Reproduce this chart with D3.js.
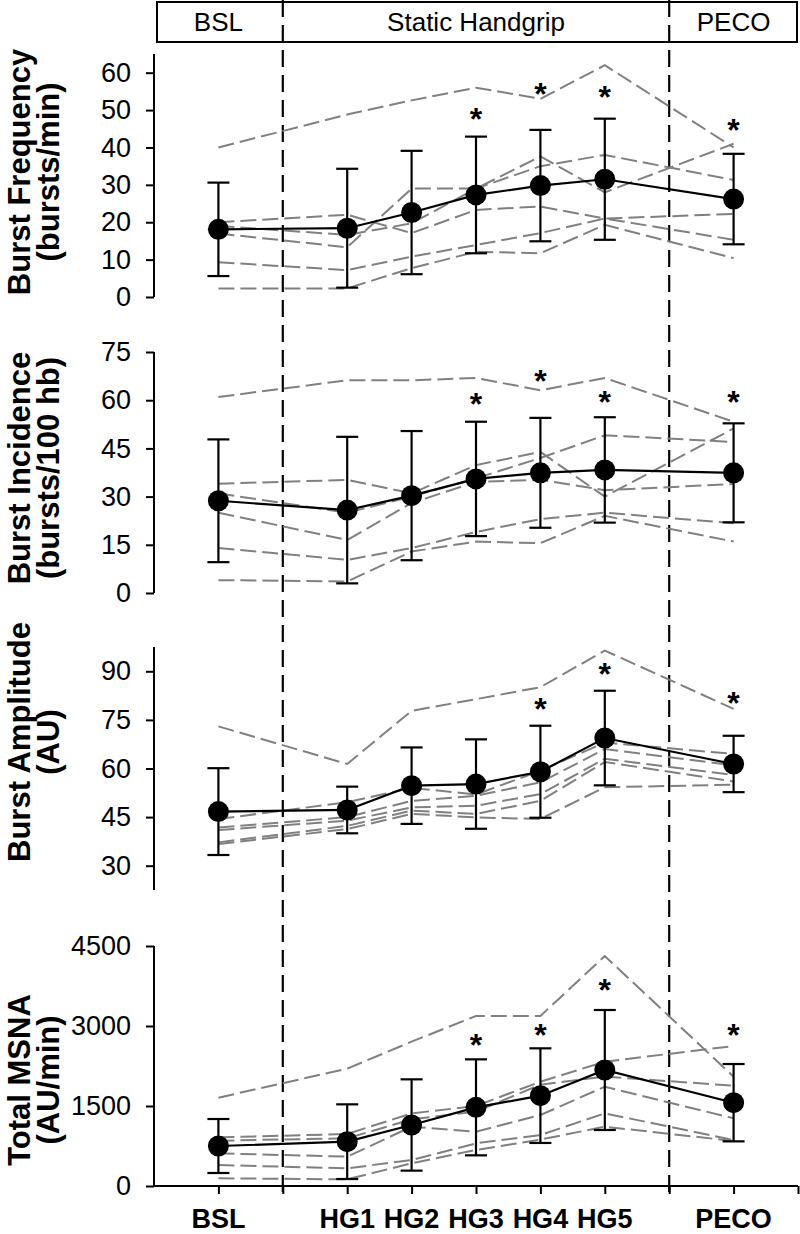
<!DOCTYPE html>
<html><head><meta charset="utf-8">
<script src="https://cdn.jsdelivr.net/npm/d3@7"></script>
<style>body{margin:0;background:#fff}svg{display:block}text{font-family:"Liberation Sans",Arial,sans-serif}</style>
</head><body><svg id="c" width="800" height="1234"></svg>
<script>
// ---------- DATA ----------
const slots = ["start","BSL","sep1","HG1","HG2","HG3","HG4","HG5","sep2","PECO","end"];
const categories = ["BSL","HG1","HG2","HG3","HG4","HG5","PECO"];
const separators = ["sep1","sep2"];
const phaseLabels = ["BSL","Static Handgrip","PECO"];
const phaseCenters = ["BSL","HG3","PECO"];

const freqTitle = ["Burst Frequency","(bursts/min)"];
const freqTicks = [0,10,20,30,40,50,60];
const freqMean = [18.1,18.4,22.6,27.3,29.8,31.5,26.2];
const freqSD   = [12.5,15.9,16.5,15.6,14.9,16.2,12.1];
const freqStars = [null,null,null,49.6,56.3,55.4,46.6];
const freqSubjects = [
  [40,48.8,52.6,56,53,62,40],
  [17,13.3,29,29,37.6,28,41],
  [20,22,17.1,23.3,24.2,21,22.2],
  [19,16.6,19.7,29,35,38,31.3],
  [9.3,7.2,10.8,13.9,17.1,21,15.3],
  [2.3,2.3,7.7,12.1,11.7,19.3,10.4]
];

const incTitle = ["Burst Incidence","(bursts/100 hb)"];
const incTicks = [0,15,30,45,60,75];
const incMean = [28.7,25.8,30.3,35.5,37.4,38.3,37.4];
const incSD   = [19.1,22.8,20.1,17.8,17.1,16.4,15.4];
const incStars = [null,null,null,61,68,61.5,61.5];
const incSubjects = [
  [61,66.2,66.2,66.9,63.1,66.9,53.3],
  [34,35.2,31,39.8,43.9,30,51.2],
  [31,25,30,35.7,42,49.1,47],
  [25,16.5,28,34.6,35.2,32,33.9],
  [14,10.3,14,19,23,25,21.7],
  [4,3.6,12.9,16,15.5,24,16]
];

const ampTitle = ["Burst Amplitude","(AU)"];
const ampTicks = [30,45,60,75,90];
const ampMean = [46.7,47.2,54.7,55.2,59,69.4,61.4];
const ampSD   = [13.4,7.2,11.8,13.8,14.2,14.6,8.7];
const ampStars = [null,null,null,null,80.4,91.2,82.3];
const ampSubjects = [
  [73,61.4,77.8,81.4,85.1,96.4,78.4],
  [44.4,49.6,54,52,59.3,68,64.5],
  [41.8,45,50,51.6,55.7,66,61],
  [41,43.9,48,48.5,52.1,63,58],
  [37.2,42.3,47,46,50,62,56],
  [36.7,41.3,46,44.9,44.4,54.2,55]
];

const totTitle = ["Total MSNA","(AU/min)"];
const totTicks = [0,1500,3000,4500];
const totMean = [750,831,1144,1475,1694,2175,1562];
const totSD   = [506,700,856,900,887,1125,725];
const totStars = [null,null,null,2769,2969,3800,2956];
const totSubjects = [
  [1656,2200,2706,3188,3188,4312,2050],
  [912,975,1362,1500,1956,2331,2625],
  [850,894,1250,1394,1900,2050,1881],
  [612,550,1112,1019,1331,1862,1269],
  [394,331,487,800,956,1362,862],
  [144,125,425,675,870,1112,844]
];

// ---------- LAYOUT ----------
const svg = d3.select("#c");
const X0 = 154, X1 = 798;
const x = d3.scalePoint().domain(slots).range([X0, X1]);
const font = '"Liberation Sans",Arial,sans-serif';

const panels = [
  {title:freqTitle, ticks:freqTicks, mean:freqMean, sd:freqSD, stars:freqStars, subj:freqSubjects, domain:[0,65], range:[297,54], tc:172},
  {title:incTitle, ticks:incTicks, mean:incMean, sd:incSD, stars:incStars, subj:incSubjects, domain:[0,75], range:[593,352], tc:468},
  {title:ampTitle, ticks:ampTicks, mean:ampMean, sd:ampSD, stars:ampStars, subj:ampSubjects, domain:[22.5,97.5], range:[890,647], tc:742},
  {title:totTitle, ticks:totTicks, mean:totMean, sd:totSD, stars:totStars, subj:totSubjects, domain:[0,4500], range:[1186,946], tc:1080}
];

// header
const hdr = svg.append("g");
hdr.append("rect").attr("x",157).attr("y",2).attr("width",640).attr("height",40)
  .attr("fill","none").attr("stroke","#000").attr("stroke-width",2);
phaseLabels.forEach((t,i)=>{
  hdr.append("text").attr("x",x(phaseCenters[i])).attr("y",31).attr("text-anchor","middle")
    .attr("font-size",26).text(t);
});

// separators
separators.forEach(s=>{
  svg.append("line").attr("x1",x(s)).attr("x2",x(s)).attr("y1",0).attr("y2",1196)
    .attr("stroke","#000").attr("stroke-width",2.2).attr("stroke-dasharray","17,8");
});

panels.forEach((p,pi)=>{
  const y = d3.scaleLinear().domain(p.domain).range(p.range);
  const g = svg.append("g");
  // y axis
  const ax = g.append("g").attr("transform",`translate(${X0},0)`)
    .call(d3.axisLeft(y).tickValues(p.ticks).tickSize(8).tickPadding(15).tickFormat(d3.format("d")));
  ax.select(".domain").attr("stroke","#000").attr("stroke-width",2)
    .attr("d",`M0,${p.range[0]}V${p.range[1]}`);
  ax.selectAll(".tick line").attr("stroke","#000").attr("stroke-width",2);
  ax.selectAll(".tick text").attr("font-family",font).attr("font-size",27).attr("fill","#000");

  // title
  p.title.forEach((t,li)=>{
    g.append("text").attr("transform",`translate(${30+li*29},${p.tc}) rotate(-90)`)
      .attr("text-anchor","middle").attr("font-weight","bold").attr("font-size",31).text(t);
  });

  // subject lines
  const line = d3.line().x((d,i)=>x(categories[i])).y(d=>y(d));
  g.selectAll(".subj").data(p.subj).enter().append("path")
    .attr("d",line).attr("fill","none").attr("stroke","#808080").attr("stroke-width",2)
    .attr("stroke-dasharray","16,6");

  // mean line
  g.append("path").datum(p.mean).attr("d",line).attr("fill","none")
    .attr("stroke","#000").attr("stroke-width",2.2);

  // error bars
  p.mean.forEach((m,i)=>{
    const cx = x(categories[i]);
    const t = y(m+p.sd[i]), b = y(m-p.sd[i]);
    g.append("line").attr("x1",cx).attr("x2",cx).attr("y1",t).attr("y2",b)
      .attr("stroke","#000").attr("stroke-width",2.2);
    [t,b].forEach(v=>g.append("line").attr("x1",cx-11).attr("x2",cx+11).attr("y1",v).attr("y2",v)
      .attr("stroke","#000").attr("stroke-width",2.2));
  });
  // points
  g.selectAll(".pt").data(p.mean).enter().append("circle")
    .attr("cx",(d,i)=>x(categories[i])).attr("cy",d=>y(d)).attr("r",10.5).attr("fill","#000");
  // stars
  p.stars.forEach((s,i)=>{
    if(s==null) return;
    g.append("text").attr("x",x(categories[i])).attr("y",y(s)+18).attr("text-anchor","middle")
      .attr("font-weight","bold").attr("font-size",32).text("*");
  });

  // x axis on last panel
  if(pi===3){
    const xa = g.append("g").attr("transform",`translate(0,${p.range[0]})`)
      .call(d3.axisBottom(x).tickValues(slots.slice(1)).tickSize(8).tickFormat(""));
    xa.select(".domain").attr("stroke","#000").attr("stroke-width",2).attr("d",`M${X0},0H${X1}`);
    xa.selectAll(".tick line").attr("stroke","#000").attr("stroke-width",2);
    categories.forEach(c=>{
      g.append("text").attr("x",x(c)).attr("y",1228).attr("text-anchor","middle")
        .attr("font-weight","bold").attr("font-size",27).text(c);
    });
  }
});
</script></body></html>
